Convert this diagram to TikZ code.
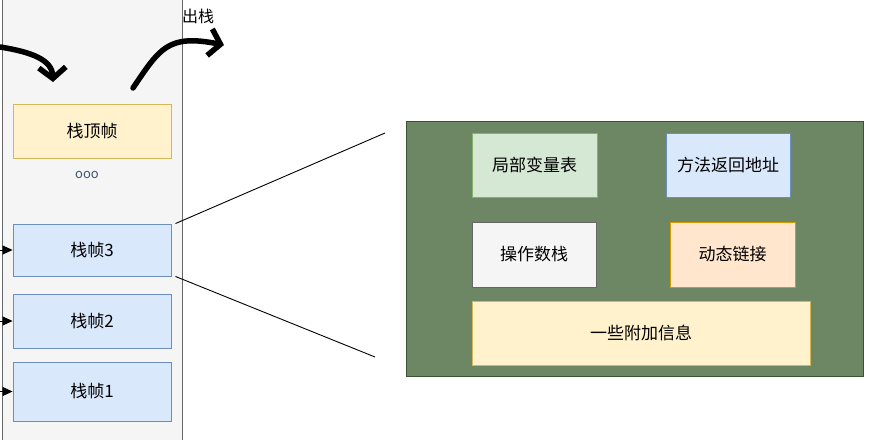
\documentclass[tikz,border=0pt]{standalone}
\usepackage{fontspec}
\setmainfont{Noto Sans CJK SC}
\usetikzlibrary{arrows.meta}

\definecolor{stackfill}{HTML}{F5F5F5}
\definecolor{stackline}{HTML}{666666}
\definecolor{yelfill}{HTML}{FFF2CC}
\definecolor{yelline}{HTML}{D6B656}
\definecolor{bluefill}{HTML}{DAE8FC}
\definecolor{blueline}{HTML}{6C8EBF}
\definecolor{grnfill}{HTML}{D5E8D4}
\definecolor{grnline}{HTML}{82B366}
\definecolor{orgfill}{HTML}{FFE6CC}
\definecolor{orgline}{HTML}{D79B00}
\definecolor{framefill}{HTML}{6D8764}
\definecolor{frameline}{HTML}{3A5431}

\begin{document}
\begin{tikzpicture}[x=1pt, y=-1pt,
  box/.style={draw, line width=0.9pt, inner sep=0pt, font=\fontsize{17}{20}\selectfont},
  pushin/.style={-{Triangle[length=10pt,width=9pt]}, line width=0.8pt},
  sketch/.style={line width=5.5pt, line cap=round, line join=round,
    -{Straight Barb[length=11pt,width=27pt,line width=5.5pt]}}]

  \useasboundingbox (0,0) rectangle (891,439);

  % the stack column
  \draw[fill=stackfill, draw=stackline, line width=1pt] (2,-5) rectangle (182,445);

  \node[box, fill=yelfill, draw=yelline, minimum width=158pt, minimum height=54pt] (top) at (92,131) {栈顶帧};
  \node[font=\fontsize{13}{14}\selectfont, text=blueline!60!black] (dots) at (87,175) {ooo};
  \node[box, fill=bluefill, draw=blueline, minimum width=158pt, minimum height=52pt] (f3) at (92,250) {栈帧3};
  \node[box, fill=bluefill, draw=blueline, minimum width=158pt, minimum height=54pt] (f2) at (92,321) {栈帧2};
  \node[box, fill=bluefill, draw=blueline, minimum width=158pt, minimum height=59pt] (f1) at (92,391.5) {栈帧1};

  %% push / pop arrows
  \coordinate (pushA) at (0,47);
  \coordinate (popA) at (133,88);
  \coordinate (popB) at (224,45);
  \draw[sketch] (pushA) .. controls (32,52) and (52,60) .. (53,82);
  \draw[sketch] (popA) .. controls (160,48) and (168,34) .. (popB);
  \node[font=\fontsize{16}{18}\selectfont] (pop) at (198,16) {出栈};

  \foreach \f in {f3,f2,f1}
    \draw[pushin] ([xshift=-14pt]\f.west) -- (\f.west);

  % the expanded frame
  \node[box, fill=framefill, draw=frameline, minimum width=457pt, minimum height=255pt] (frame) at (634.5,248.5) {};
  \node[box, fill=grnfill, draw=grnline, minimum width=125pt, minimum height=64pt] (lv) at (534.5,165) {局部变量表};
  \node[box, fill=bluefill, draw=blueline, minimum width=124pt, minimum height=64pt] (ra) at (728,165) {方法返回地址};
  \node[box, fill=stackfill, draw=stackline, minimum width=124pt, minimum height=65pt] (os) at (534,254.5) {操作数栈};
  \node[box, fill=orgfill, draw=orgline, minimum width=125pt, minimum height=65pt] (dl) at (732.5,254.5) {动态链接};
  \node[box, fill=yelfill, draw=yelline, minimum width=338pt, minimum height=64pt] (ex) at (641,333) {一些附加信息};

  \coordinate (zoomT) at (385,133);
  \coordinate (zoomB) at (375,357);
  \draw[line width=0.9pt] ([xshift=4pt]f3.north east) -- (zoomT);
  \draw[line width=0.9pt] ([xshift=4pt]f3.south east) -- (zoomB);

\end{tikzpicture}
\end{document}
